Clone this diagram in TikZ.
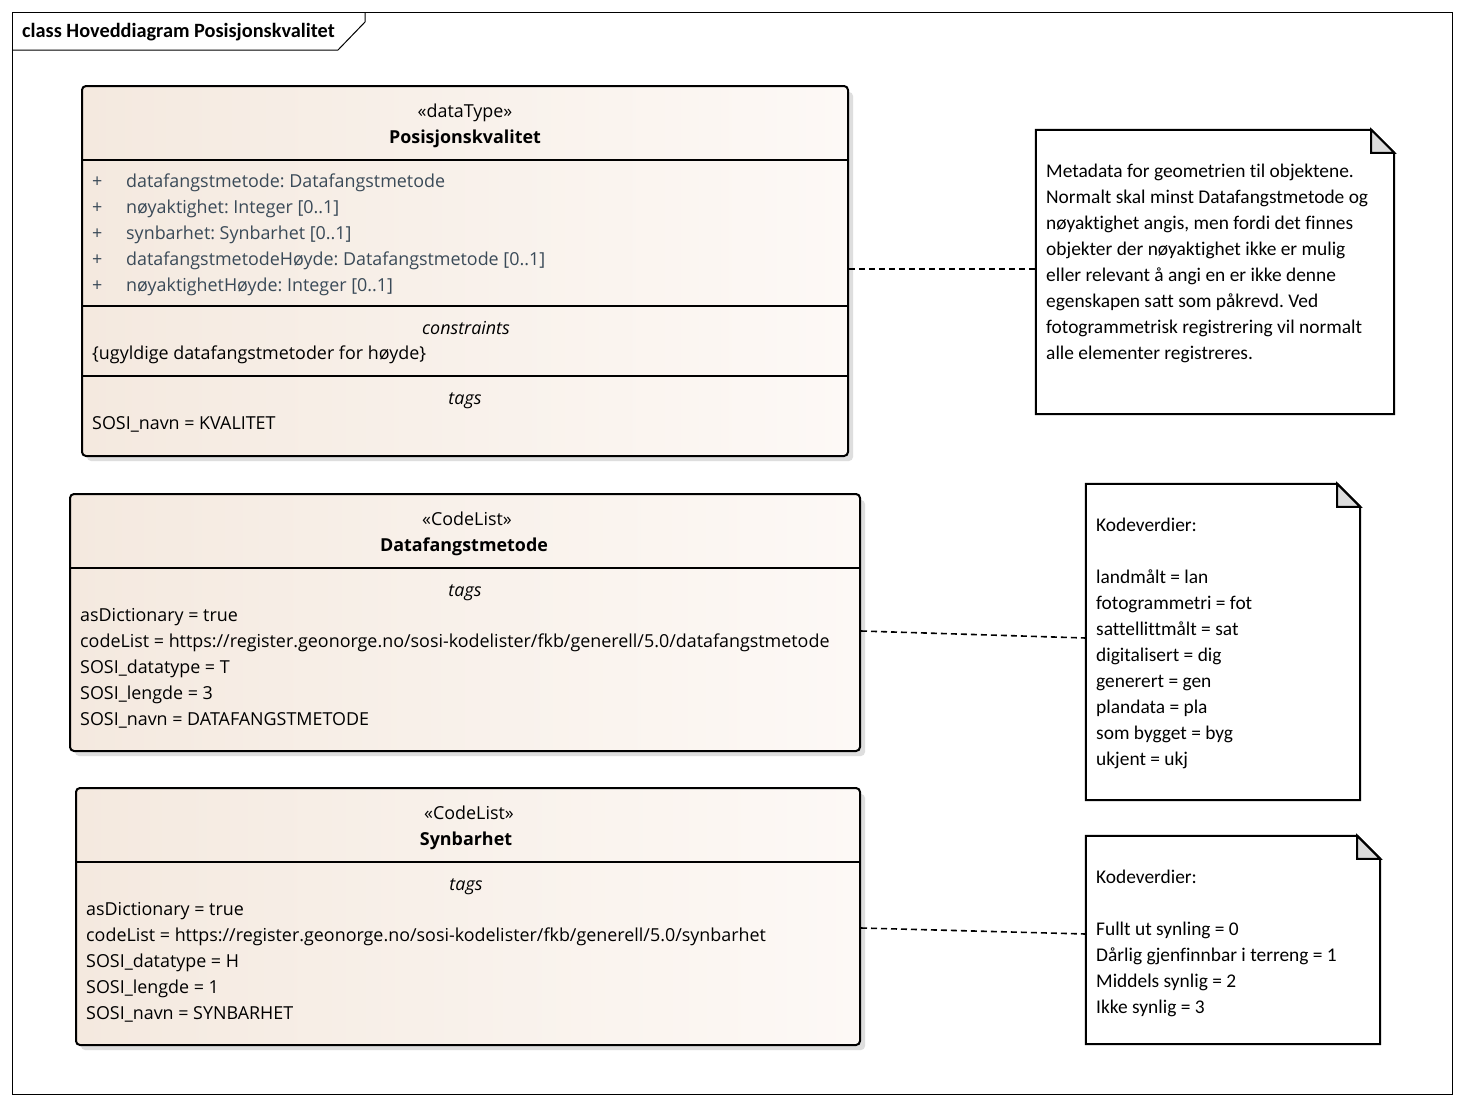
\documentclass[tikz,border=0pt]{standalone}
\usepackage{fontspec}
\setmainfont{Carlito}[Ligatures={NoCommon}]
\newfontfamily\seg{Open Sans}[Ligatures={NoCommon}]
\frenchspacing
\definecolor{attrc}{RGB}{58,74,88}
\definecolor{lefc}{RGB}{244,233,223}
\definecolor{rigc}{RGB}{253,249,246}
\definecolor{shad}{RGB}{222,222,222}
\definecolor{foldc}{RGB}{220,220,220}
\newcommand\segtext{\seg\fontsize{17.9}{22}\selectfont}
\newcommand\notetext{\fontsize{19.4}{22}\selectfont}
\tikzset{
  clsbox/.style={draw=black, line width=2pt, rounded corners=4pt, left color=lefc, right color=rigc, shading angle=90, inner sep=0pt},
  shadowbox/.style={fill=shad, rounded corners=4pt},
  notebody/.style={inner sep=0pt},
  sep/.style={line width=2pt},
  tx/.style={anchor=base west, inner sep=0pt, font=\segtext},
  txc/.style={anchor=base, inner sep=0pt, font=\segtext},
  attr/.style={tx, text=attrc},
  nt/.style={anchor=base west, inner sep=0pt, font=\notetext},
  conn/.style={line width=1.6pt, dash pattern=on 6pt off 4pt},
}
\newcommand\notebox[1]{%
  \draw[line width=2pt, fill=white] (#1.north west) -- ([xshift=-23pt]#1.north east) -- ([yshift=-23pt]#1.north east) -- (#1.south east) -- (#1.south west) -- cycle;
  \draw[line width=2pt, fill=foldc, line join=miter] ([xshift=-23pt]#1.north east) -- ([yshift=-23pt]#1.north east) -- ([xshift=-23pt,yshift=-23pt]#1.north east) -- cycle;
}
\begin{document}
\begin{tikzpicture}[x=1pt,y=-1pt]
\useasboundingbox[fill=white] (0,0) rectangle (1464,1106);
% frame
\draw[line width=1pt] (12,12) rectangle (1452,1094);
\draw[line width=1pt] (12,50) -- (338,50) -- (365,22) -- (365,12);
\node[anchor=base west, inner sep=0pt, font=\fontsize{20.3}{24}\selectfont\bfseries] (title) at (22,37) {class Hoveddiagram Posisjonskvalitet};

% ---------- class 1 ----------
\fill[shadowbox] (87,92) rectangle (853,461);
\node[clsbox, minimum width=766pt, minimum height=370pt] (c1) at (465,271) {};
\draw[sep] (c1.west |- 0,160) -- (c1.east |- 0,160);
\draw[sep] (c1.west |- 0,306) -- (c1.east |- 0,306);
\draw[sep] (c1.west |- 0,376) -- (c1.east |- 0,376);
\node[txc] (c1s) at (465,117) {«dataType»};
\node[txc, font=\segtext\bfseries] (c1n) at (465,143) {Posisjonskvalitet};
\node[attr] (p1) at (92,187) {+};
\node[attr] (a1) at (126,187) {datafangstmetode: Datafangstmetode};
\node[attr] (p2) at (92,213) {+};
\node[attr] (a2) at (126,213) {nøyaktighet: Integer [0..1]};
\node[attr] (p3) at (92,239) {+};
\node[attr] (a3) at (126,239) {synbarhet: Synbarhet [0..1]};
\node[attr] (p4) at (92,265) {+};
\node[attr] (a4) at (126,265) {datafangstmetodeHøyde: Datafangstmetode [0..1]};
\node[attr] (p5) at (92,291) {+};
\node[attr] (a5) at (126,291) {nøyaktighetHøyde: Integer [0..1]};
\node[txc, font=\segtext\itshape] (c1c) at (466,334) {constraints};
\node[tx] (c1k) at (92,359) {\{ugyldige datafangstmetoder for høyde\}};
\node[txc, font=\segtext\itshape] (c1t) at (465,404) {tags};
\node[tx] (c1v) at (92,429) {SOSI\_navn = KVALITET};

% ---------- class 2 ----------
\fill[shadowbox] (75,500) rectangle (865,756);
\node[clsbox, minimum width=790pt, minimum height=257pt] (c2) at (465,622.5) {};
\draw[sep] (c2.west |- 0,568) -- (c2.east |- 0,568);
\node[txc] (c2s) at (467,525) {«CodeList»};
\node[txc, font=\segtext\bfseries] (c2n) at (464,551) {Datafangstmetode};
\node[txc, font=\segtext\itshape] (c2t) at (465,596) {tags};
\node[tx] (c2v1) at (80,621) {asDictionary = true};
\node[tx] (c2v2) at (80,647) {codeList = https://register.geonorge.no/sosi-kodelister/fkb/generell/5.0/datafangstmetode};
\node[tx] (c2v3) at (80,673) {SOSI\_datatype = T};
\node[tx] (c2v4) at (80,699) {SOSI\_lengde = 3};
\node[tx] (c2v5) at (80,725) {SOSI\_navn = DATAFANGSTMETODE};

% ---------- class 3 ----------
\fill[shadowbox] (81,794) rectangle (865,1050);
\node[clsbox, minimum width=784pt, minimum height=257pt] (c3) at (468,916.5) {};
\draw[sep] (c3.west |- 0,862) -- (c3.east |- 0,862);
\node[txc] (c3s) at (469,819) {«CodeList»};
\node[txc, font=\segtext\bfseries] (c3n) at (466,845) {Synbarhet};
\node[txc, font=\segtext\itshape] (c3t) at (466,890) {tags};
\node[tx] (c3v1) at (86,915) {asDictionary = true};
\node[tx] (c3v2) at (86,941) {codeList = https://register.geonorge.no/sosi-kodelister/fkb/generell/5.0/synbarhet};
\node[tx] (c3v3) at (86,967) {SOSI\_datatype = H};
\node[tx] (c3v4) at (86,993) {SOSI\_lengde = 1};
\node[tx] (c3v5) at (86,1019) {SOSI\_navn = SYNBARHET};

% ---------- notes ----------
\node[notebody, minimum width=358pt, minimum height=284pt] (n1) at (1215,272) {};
\notebox{n1}
\node[nt] (n1l1) at (1046,177) {Metadata for geometrien til objektene.};
\node[nt] (n1l2) at (1046,203) {Normalt skal minst Datafangstmetode og};
\node[nt] (n1l3) at (1046,229) {nøyaktighet angis, men fordi det finnes};
\node[nt] (n1l4) at (1046,255) {objekter der nøyaktighet ikke er mulig};
\node[nt] (n1l5) at (1046,281) {eller relevant å angi en er ikke denne};
\node[nt] (n1l6) at (1046,307) {egenskapen satt som påkrevd. Ved};
\node[nt] (n1l7) at (1046,333) {fotogrammetrisk registrering vil normalt};
\node[nt] (n1l8) at (1046,359) {alle elementer registreres.};

\node[notebody, minimum width=274pt, minimum height=316pt] (n2) at (1223,642) {};
\notebox{n2}
\node[nt] (n2l0) at (1096,531) {Kodeverdier:};
\node[nt] (n2l1) at (1096,583) {landmålt = lan};
\node[nt] (n2l2) at (1096,609) {fotogrammetri = fot};
\node[nt] (n2l3) at (1096,635) {sattellittmålt = sat};
\node[nt] (n2l4) at (1096,661) {digitalisert = dig};
\node[nt] (n2l5) at (1096,687) {generert = gen};
\node[nt] (n2l6) at (1096,713) {plandata = pla};
\node[nt] (n2l7) at (1096,739) {som bygget = byg};
\node[nt] (n2l8) at (1096,765) {ukjent = ukj};

\node[notebody, minimum width=294pt, minimum height=208pt] (n3) at (1233,940) {};
\notebox{n3}
\node[nt] (n3l0) at (1096,883) {Kodeverdier:};
\node[nt] (n3l1) at (1096,935) {Fullt ut synling = 0};
\node[nt] (n3l2) at (1096,961) {Dårlig gjenfinnbar i terreng = 1};
\node[nt] (n3l3) at (1096,987) {Middels synlig = 2};
\node[nt] (n3l4) at (1096,1013) {Ikke synlig = 3};

% ---------- connectors ----------
\draw[conn] ([yshift=2pt]c1.east) -- ([yshift=3pt]n1.west);
\draw[conn] ([yshift=-8.5pt]c2.east) -- ([yshift=4pt]n2.west);
\draw[conn] ([yshift=-11.5pt]c3.east) -- ([yshift=6pt]n3.west);
\end{tikzpicture}
\end{document}
